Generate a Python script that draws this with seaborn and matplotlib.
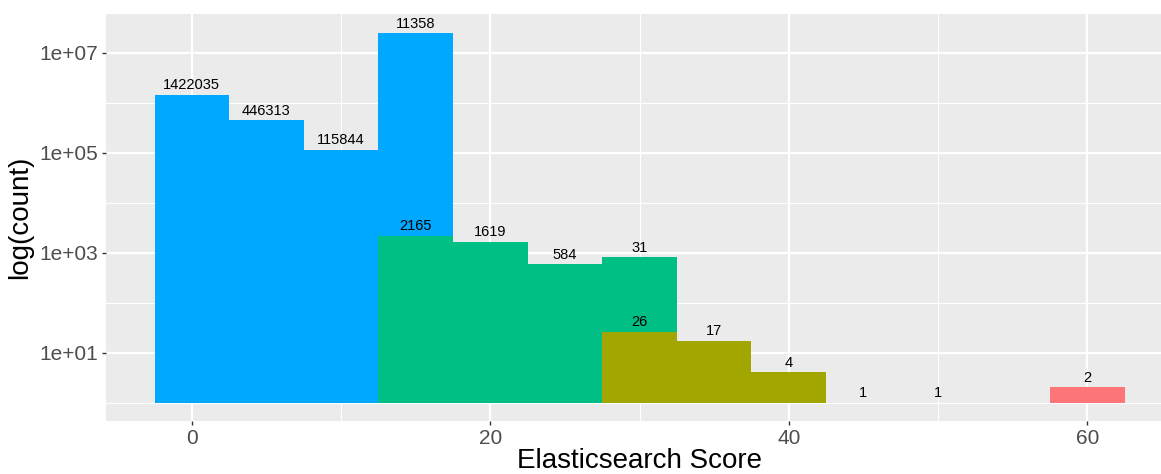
import numpy as np
import pandas as pd
import matplotlib
matplotlib.use("Agg")
import matplotlib.pyplot as plt
import seaborn as sns

# Score bins (centres, width 5) and the number of documents per group
score = [0, 5, 10, 15, 15, 20, 25, 30, 30, 35, 40, 45, 50, 60]
group = ["A", "A", "A", "A", "B", "B", "B", "B", "C", "C", "C", "C", "C", "D"]
count = [1422035, 446313, 115844, 11358, 2165, 1619, 584, 31, 26, 17, 4, 1, 1, 2]

# stacking order from bottom to top
stack_order = ["D", "C", "B", "A"]
colors = {"A": "#00A9FF", "B": "#00BF85", "C": "#A3A500", "D": "#FD7479"}

y_ticks = [1, 3, 5, 7]
y_tick_labels = ["1e+01", "1e+03", "1e+05", "1e+07"]
x_ticks = [0, 20, 40, 60]

df = pd.DataFrame({"score": score, "group": group, "count": count})
df["logc"] = np.log10(df["count"])

sns.set_theme(style="darkgrid")
plt.rcParams["font.family"] = ["Liberation Sans", "DejaVu Sans"]

fig = plt.figure(figsize=(11.61, 4.74), dpi=100)
W, H = 1161, 474
ax = fig.add_axes([106 / W, 1 - 421 / H, (1173 - 106) / W, (421 - 14) / H])
ax.set_facecolor("#EBEBEB")

sns.histplot(
    data=df, x="score", weights="logc", hue="group",
    hue_order=stack_order[::-1], palette=colors,
    multiple="stack", binwidth=5, binrange=(-2.5, 62.5),
    element="bars", alpha=1, linewidth=0, legend=False, ax=ax,
)

# value labels at the top of each stacked segment
for s, sub in df.groupby("score"):
    sub = sub.set_index("group").reindex([g for g in stack_order if g in sub["group"].values])
    top = 0.0
    for g, row in sub.iterrows():
        top += row["logc"]
        ax.annotate(str(int(row["count"])), (s, top), xytext=(0, 2),
                    textcoords="offset points", ha="center", va="bottom",
                    fontsize=10.5, color="black")

ax.set_xlim(-5.75, 65.75)
ax.set_ylim(-0.37, 7.78)

ax.set_xticks(x_ticks)
ax.set_xticks([10, 30, 50], minor=True)
ax.set_yticks(y_ticks)
ax.set_yticklabels(y_tick_labels)
ax.set_yticks([0, 2, 4, 6], minor=True)

ax.grid(which="major", color="white", linewidth=1.6)
ax.grid(which="minor", color="white", linewidth=0.8)
ax.set_axisbelow(True)
for sp in ax.spines.values():
    sp.set_visible(False)

ax.tick_params(which="major", length=3, width=1, color="#333333",
               labelsize=15, labelcolor="#4D4D4D", pad=3)
ax.tick_params(which="minor", length=0)
ax.tick_params(axis="x", bottom=True)
ax.tick_params(axis="y", left=True)

ax.set_xlabel("Elasticsearch Score", fontsize=20, color="black", labelpad=0)
ax.set_ylabel("log(count)", fontsize=20, color="black", labelpad=4)

fig.savefig("out.png", dpi=100)
